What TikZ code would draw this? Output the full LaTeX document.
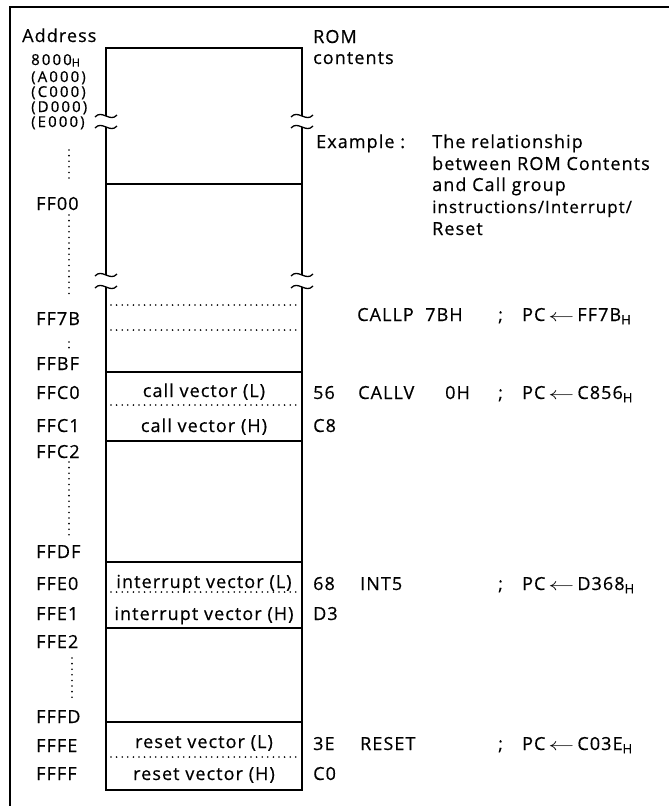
\documentclass[tikz,border=0pt]{standalone}
\usepackage{fontspec}
\setmainfont{Open Sans}[LetterSpace=6,FakeBold=0.5]
\newcommand\sH{\raisebox{-0.35ex}{\fontsize{13}{13}\selectfont H}}
\newcommand\sHs{\raisebox{-0.2ex}{\fontsize{11}{11}\selectfont H}}
\newcommand\larr{\,\scalebox{1.5}[1]{\ensuremath{\leftarrow}}\,}
\begin{document}
\begin{tikzpicture}[x=1pt,y=-1pt,
  lbl/.style={inner sep=0pt, anchor=base west, font=\fontsize{18}{20}\selectfont},
  stack/.style={inner sep=0pt, anchor=base west, font={\fontsize{15}{15}\selectfont\addfontfeatures{LetterSpace=14}}},
  ctr/.style={inner sep=0pt, anchor=base, font=\fontsize{18}{20}\selectfont},
  boxline/.style={line width=1.6pt},
  dots/.style={line width=1.8pt, line cap=round, dash pattern=on 0pt off 5.6pt},
  brk/.style={line width=1.3pt}]
\useasboundingbox (0,0) rectangle (669,806);
% frame
\draw[line width=2pt] (669,7) -- (10,7) -- (10,806);
% memory column
\draw[boxline] (106,116) -- (106,48) -- (302,48) -- (302,116);
\draw[boxline] (106,127) -- (106,275);
\draw[boxline] (302,127) -- (302,275);
\draw[boxline] (106,287) -- (106,790) -- (302,790) -- (302,287);
\foreach \y in {184,372,441,562,628,722} \draw[boxline] (106,\y) -- (302,\y);
\foreach \y in {305,330,405,592,757} \draw[dots] (111,\y) -- (298,\y);
% break marks
\foreach \x in {106,302} \foreach \y in {116,127,275,287}
  \draw[brk] (\x-11,\y+1) .. controls (\x-4,\y-7) and (\x+4,\y+7) .. (\x+11,\y-1);
% address dotted lines
\draw[dots] (69,150) -- (69,183);
\draw[dots] (69,215) -- (69,297);
\draw[dots] (69,342) -- (69,348);
\draw[dots] (69,462) -- (69,540);
\draw[dots] (72,658) -- (72,700);
% address labels
\node[lbl] (addr) at (22,42) {Address};
\node[stack] (a8) at (31,65) {8000\sHs};
\node[stack] (aA) at (31,82) {(A000)};
\node[stack] (aC) at (31,97) {(C000)};
\node[stack] (aD) at (31,112) {(D000)};
\node[stack] (aE) at (31,127) {(E000)};
\node[lbl] (f00) at (36,210) {FF00};
\node[lbl] (f7b) at (36,325) {FF7B};
\node[lbl] (fbf) at (36,370) {FFBF};
\node[lbl] (fc0) at (36,399) {FFC0};
\node[lbl] (fc1) at (36,432) {FFC1};
\node[lbl] (fc2) at (36,458) {FFC2};
\node[lbl] (fdf) at (36,558) {FFDF};
\node[lbl] (fe0) at (36,590) {FFE0};
\node[lbl] (fe1) at (36,620) {FFE1};
\node[lbl] (fe2) at (36,648) {FFE2};
\node[lbl] (ffd) at (36,723) {FFFD};
\node[lbl] (ffe) at (36,752) {FFFE};
\node[lbl] (fff) at (36,780) {FFFF};
% box contents
\node[ctr] (cvl) at (204,397) {call vector (L)};
\node[ctr] (cvh) at (204,432) {call vector (H)};
\node[ctr] (ivl) at (204,588) {interrupt vector (L)};
\node[ctr] (ivh) at (204,620) {interrupt vector (H)};
\node[ctr] (rvl) at (204,748) {reset vector (L)};
\node[ctr] (rvh) at (204,780) {reset vector (H)};
% right column
\node[lbl] (rom) at (313,43) {ROM};
\node[lbl] (cont) at (313,64) {contents};
\node[lbl] (ex) at (316,148) {Example :};
\node[lbl] (e1) at (432,148) {The relationship};
\node[lbl] (e2) at (432,170) {between ROM Contents};
\node[lbl] (e3) at (432,191) {and Call group};
\node[lbl, font=\fontsize{17}{19}\selectfont] (e4) at (432,213) {instructions/Interrupt/};
\node[lbl] (e5) at (432,235) {Reset};
% CALLP
\node[lbl] (callp) at (357,321) {CALLP\ \ 7BH};
\node[lbl] (s1) at (498,321) {;};
\node[lbl] (pc1) at (522,321) {PC\larr FF7B\sH};
% CALLV
\node[lbl] (v56) at (313,399) {56};
\node[lbl] (callv) at (358,399) {CALLV};
\node[lbl] (zh) at (445,399) {0H};
\node[lbl] (s2) at (498,399) {;};
\node[lbl] (pc2) at (522,399) {PC\larr C856\sH};
\node[lbl] (vc8) at (313,432) {C8};
% INT5
\node[lbl] (v68) at (313,590) {68};
\node[lbl] (int5) at (360,590) {INT5};
\node[lbl] (s3) at (498,590) {;};
\node[lbl] (pc3) at (522,590) {PC\larr D368\sH};
\node[lbl] (vd3) at (313,620) {D3};
% RESET
\node[lbl] (v3e) at (313,750) {3E};
\node[lbl] (rst) at (360,750) {RESET};
\node[lbl] (s4) at (498,750) {;};
\node[lbl] (pc4) at (522,750) {PC\larr C03E\sH};
\node[lbl] (vc0) at (313,780) {C0};
\end{tikzpicture}
\end{document}
